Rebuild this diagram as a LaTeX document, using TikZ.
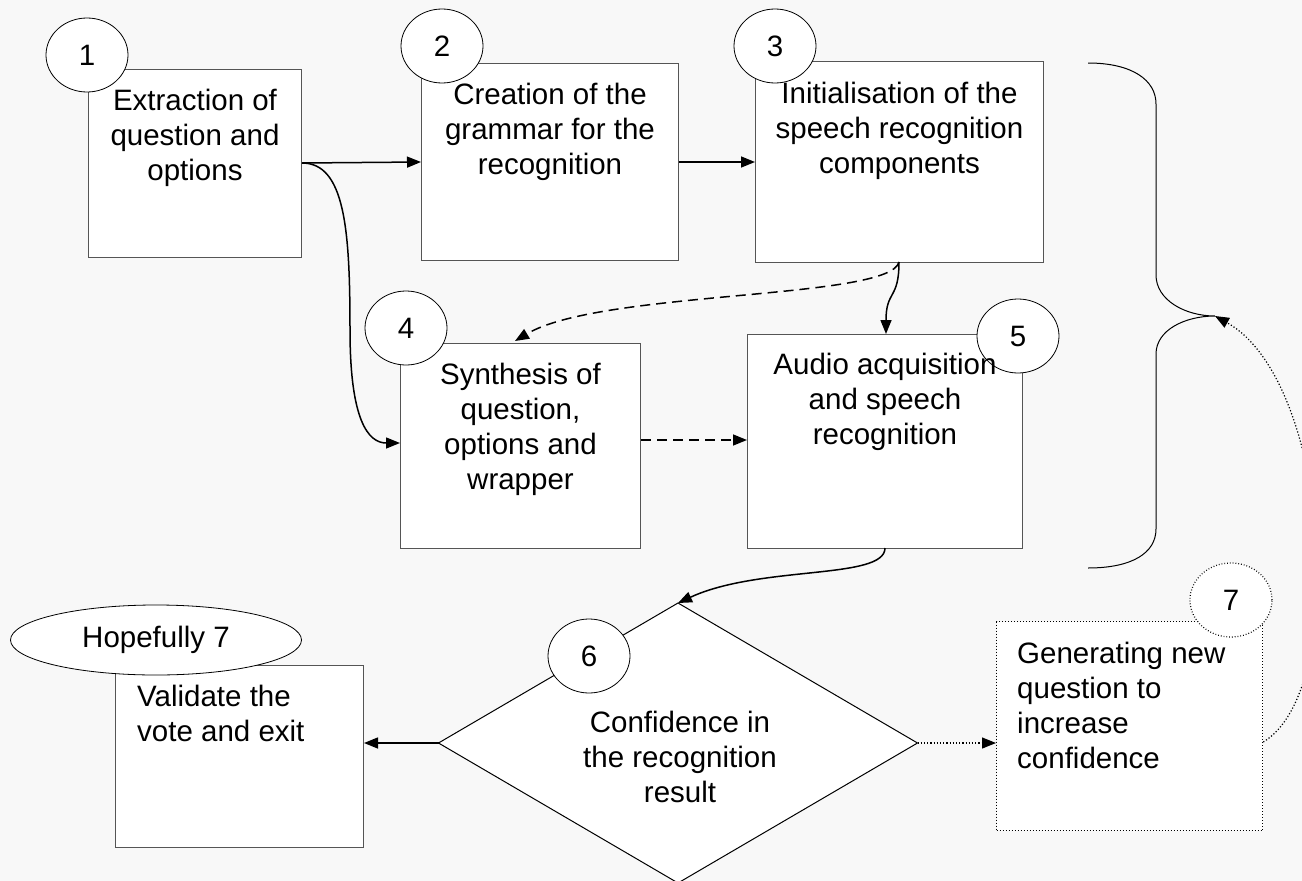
\documentclass[tikz,border=0pt]{standalone}
\usepackage{fontspec}
\setmainfont{Liberation Sans}
\usetikzlibrary{shapes.geometric,arrows.meta}
\definecolor{bgcol}{HTML}{F8F8F8}
\definecolor{boxgray}{HTML}{555555}
\newcommand\dfont{\fontsize{29.5}{35}\selectfont}
\tikzset{
  box/.style={rectangle, draw=boxgray, fill=white, line width=1pt, inner sep=0pt, anchor=north west},
  dotbox/.style={box, draw=black, dotted, line width=1.3pt},
  num/.style={ellipse, draw=black, fill=white, line width=0.8pt, minimum width=82pt, minimum height=74pt, inner sep=0pt, font=\dfont},
  txt/.style={align=center, inner sep=0pt, font=\dfont, anchor=north},
  ltxt/.style={align=left, inner sep=0pt, font=\dfont, anchor=north west},
  tip/.style={-{Triangle[length=14pt,width=11pt]}},
  conn/.style={tip, line width=1.5pt, black},
  dconn/.style={conn, dash pattern=on 10pt off 6pt},
  pconn/.style={tip, line width=1.2pt, dotted}
}
\begin{document}
\begin{tikzpicture}[x=1pt,y=-1pt]
\clip (0,0) rectangle (1302,881);
\fill[bgcol] (0,0) rectangle (1302,881);

% boxes
\node[box, minimum width=213pt, minimum height=188pt] (b1) at (88,69) {};
\node[box, minimum width=257pt, minimum height=197pt] (b2) at (421,63) {};
\node[box, minimum width=288pt, minimum height=201pt] (b3) at (755,61) {};
\node[box, minimum width=240pt, minimum height=205pt] (b4) at (400,343) {};
\node[box, minimum width=275pt, minimum height=214pt] (b5) at (747,334) {};
\node[box, minimum width=248pt, minimum height=182pt] (b6) at (115,665) {};
\node[dotbox, minimum width=266pt, minimum height=209pt] (b7) at (996,621) {};

% diamond
\node[diamond, draw=black, fill=white, line width=1pt, inner sep=0pt, outer sep=0pt, minimum width=479pt, minimum height=280pt] (dm) at (678,743) {};

% brace
\coordinate (bt) at (1215,316);
\draw[line width=1pt] (1088,63) .. controls (1132,63) and (1156,80) .. (1156,104) -- (1156,275)
  .. controls (1156,300) and (1185,316) .. (bt)
  .. controls (1185,316) and (1156,330) .. (1156,354) -- (1156,529)
  .. controls (1156,553) and (1132,568) .. (1088,568);

% numbered circles
\node[num] (c1) at (87,55) {1};
\node[num] (c2) at (442,46) {2};
\node[num] (c3) at (775,46) {3};
\node[num] (c4) at (406,328) {4};
\node[num] (c5) at (1018,336) {5};
\node[num] (c6) at (589,656) {6};
\node[num, dotted, line width=1.2pt] (c7) at (1231,600) {7};
\node[ellipse, draw=black, fill=white, line width=0.8pt, minimum width=291pt, minimum height=70pt, inner sep=0pt, font=\dfont] (h7) at (156,640) {Hopefully 7};

% texts
\node[txt] (t1) at ([yshift=-20pt]b1.north) {Extraction of\\question and\\options};
\node[txt] (t2) at ([yshift=-20pt]b2.north) {Creation of the\\grammar for the\\recognition};
\node[txt] (t3) at ([yshift=-21pt]b3.north) {Initialisation of the\\speech recognition\\components};
\node[txt] (t4) at ([yshift=-20pt]b4.north) {Synthesis of\\question,\\options and\\wrapper};
\node[txt] (t5) at ([yshift=-19pt]b5.north) {Audio acquisition\\and speech\\recognition};
\node[ltxt] (t6) at ([xshift=22pt,yshift=-20pt]b6.north west) {Validate the\\vote and exit};
\node[ltxt] (t7) at ([xshift=21pt,yshift=-21pt]b7.north west) {Generating new\\question to\\increase\\confidence};
\node[txt, anchor=center] (td) at (680,757) {Confidence in\\the recognition\\result};

% connectors
\draw[conn] (b1.east |- 0,163) -- (b2.west |- 0,162);
\draw[conn] (b2.east |- 0,162) -- (b3.west |- 0,162);
\draw[conn] (b1.east |- 0,163) .. controls (345,163) and (350,230) .. (350,330)
  .. controls (350,420) and (368,443) .. (b4.west |- 0,443);
\draw[conn] (899,262) .. controls (899,300) and (886,290) .. (b5.north -| 886,0);
\draw[dconn] (899,262) .. controls (890,300) and (600,290) .. (515,341);
\draw[dconn] (b4.east |- 0,440) -- (b5.west |- 0,440);
\draw[conn] (885,548) .. controls (885,580) and (760,565) .. (dm.north);
\draw[conn] (dm.west) -- (b6.east |- dm.west);
\draw[pconn] (dm.east) -- (b7.west |- dm.east);
\draw[pconn] (b7.east |- 0,742) .. controls (1350,690) and (1330,380) .. (bt);
\end{tikzpicture}
\end{document}
